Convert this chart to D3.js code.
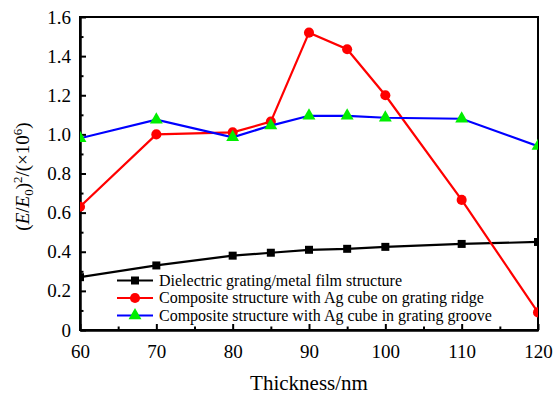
<!DOCTYPE html>
<html>
<head>
<meta charset="utf-8">
<script src="https://cdn.jsdelivr.net/npm/d3@7"></script>
<style>
  body { margin: 0; background: #fff; }
  svg text { font-family: "Liberation Serif", "Times New Roman", serif; }
</style>
</head>
<body>
<div id="chart"></div>
<script>
// data
var thickness = [60, 70, 80, 85, 90, 95, 100, 110, 120];
var filmOnly = [0.27, 0.33, 0.38, 0.395, 0.41, 0.415, 0.425, 0.44, 0.45];
var cubeRidge = [0.63, 1.0, 1.01, 1.065, 1.52, 1.435, 1.2, 0.665, 0.09];
var cubeGroove = [0.98, 1.075, 0.985, 1.045, 1.095, 1.095, 1.085, 1.08, 0.94];
var seriesNames = [
  "Dielectric grating/metal film structure",
  "Composite structure with Ag cube on grating ridge",
  "Composite structure with Ag cube in grating groove"
];
var xTicks = [60, 70, 80, 90, 100, 110, 120];
var yTicks = [0, 0.2, 0.4, 0.6, 0.8, 1.0, 1.2, 1.4, 1.6];

var serif = "'Liberation Serif', 'Times New Roman', serif";
var width = 554, height = 396;
var margin = {left: 80, right: 16, top: 17, bottom: 66};

var svg = d3.select("#chart").append("svg")
  .attr("width", width)
  .attr("height", height)
  .attr("font-family", serif);

var x = d3.scaleLinear().domain([60, 120]).range([margin.left, width - margin.right]);
var y = d3.scaleLinear().domain([0, 1.6]).range([height - margin.bottom, margin.top]);

svg.append("clipPath").attr("id", "plotclip")
  .append("rect")
  .attr("x", x(60)).attr("y", y(1.6))
  .attr("width", x(120) - x(60)).attr("height", y(0) - y(1.6));

// frame
svg.append("rect")
  .attr("x", x(60)).attr("y", y(1.6))
  .attr("width", x(120) - x(60)).attr("height", y(0) - y(1.6))
  .attr("fill", "none").attr("stroke", "#000").attr("stroke-width", 2);

// axes, ticks inside
svg.append("g")
  .attr("transform", "translate(0," + y(0) + ")")
  .call(d3.axisBottom(x).tickValues(xTicks).tickFormat(d3.format("d")).tickSizeInner(-6).tickSizeOuter(0).tickPadding(15));
svg.append("g")
  .attr("transform", "translate(" + x(60) + ",0)")
  .call(d3.axisLeft(y).tickValues(yTicks).tickFormat(function(d){ return d === 0 ? "0" : d3.format(".1f")(d); })
    .tickSizeInner(-6).tickSizeOuter(0).tickPadding(9));

// minor ticks
svg.append("g")
  .attr("transform", "translate(0," + y(0) + ")")
  .call(d3.axisBottom(x).tickValues([65, 75, 85, 95, 105, 115]).tickFormat("").tickSizeInner(-3.5).tickSizeOuter(0));
svg.append("g")
  .attr("transform", "translate(" + x(60) + ",0)")
  .call(d3.axisLeft(y).tickValues([0.1, 0.3, 0.5, 0.7, 0.9, 1.1, 1.3, 1.5]).tickFormat("").tickSizeInner(-3.5).tickSizeOuter(0));

svg.selectAll("g").attr("font-family", serif);
svg.selectAll(".domain").attr("stroke", "#000").attr("stroke-width", 2);
svg.selectAll(".tick line").attr("stroke", "#000").attr("stroke-width", 2);
svg.selectAll(".tick text").attr("fill", "#000").attr("font-size", 19);

// axis titles
svg.append("text")
  .attr("x", (x(60) + x(120)) / 2).attr("y", 390)
  .attr("text-anchor", "middle")
  .attr("font-size", 21)
  .text("Thickness/nm");

var yt = svg.append("text")
  .attr("transform", "translate(29," + ((y(0) + y(1.6)) / 2 + 3) + ") rotate(-90)")
  .attr("text-anchor", "middle")
  .attr("font-size", 19);
yt.append("tspan").text("(");
yt.append("tspan").attr("font-style", "italic").text("E");
yt.append("tspan").text("/");
yt.append("tspan").attr("font-style", "italic").text("E");
yt.append("tspan").attr("dy", 4).attr("font-size", 13).text("0");
yt.append("tspan").attr("dy", -4).text(")");
yt.append("tspan").attr("dy", -7).attr("font-size", 13).text("2");
yt.append("tspan").attr("dy", 7).text("/(×10");
yt.append("tspan").attr("dy", -7).attr("font-size", 13).text("6");
yt.append("tspan").attr("dy", 7).text(")");

// series
var series = [
  {values: filmOnly, line: "#000000", fill: "#000000", shape: d3.symbolSquare, size: 64},
  {values: cubeRidge, line: "#ff0000", fill: "#ff0000", shape: d3.symbolCircle, size: 80},
  {values: cubeGroove, line: "#0000ff", fill: "#00ee00", shape: d3.symbolTriangle, size: 72}
];

var plot = svg.append("g").attr("clip-path", "url(#plotclip)");
var line = d3.line().x(function(d, i){ return x(thickness[i]); }).y(function(d){ return y(d); });

series.forEach(function(s) {
  plot.append("path")
    .attr("d", line(s.values))
    .attr("fill", "none")
    .attr("stroke", s.line)
    .attr("stroke-width", 2.2);
  plot.selectAll(null)
    .data(s.values)
    .enter()
    .append("path")
    .attr("d", d3.symbol().type(s.shape).size(s.size))
    .attr("transform", function(d, i){ return "translate(" + x(thickness[i]) + "," + y(d) + ")"; })
    .attr("fill", s.fill);
});

// legend
var legend = svg.append("g");
series.forEach(function(s, i) {
  var ly = 280.5 + i * 17.5;
  legend.append("line")
    .attr("x1", 117).attr("x2", 153).attr("y1", ly).attr("y2", ly)
    .attr("stroke", s.line).attr("stroke-width", 2.2);
  legend.append("path")
    .attr("d", d3.symbol().type(s.shape).size(s.size))
    .attr("transform", "translate(135," + ly + ")")
    .attr("fill", s.fill);
  legend.append("text")
    .attr("x", 159).attr("y", ly + 5)
    .attr("font-size", 16)
    .text(seriesNames[i]);
});
</script>
</body>
</html>
